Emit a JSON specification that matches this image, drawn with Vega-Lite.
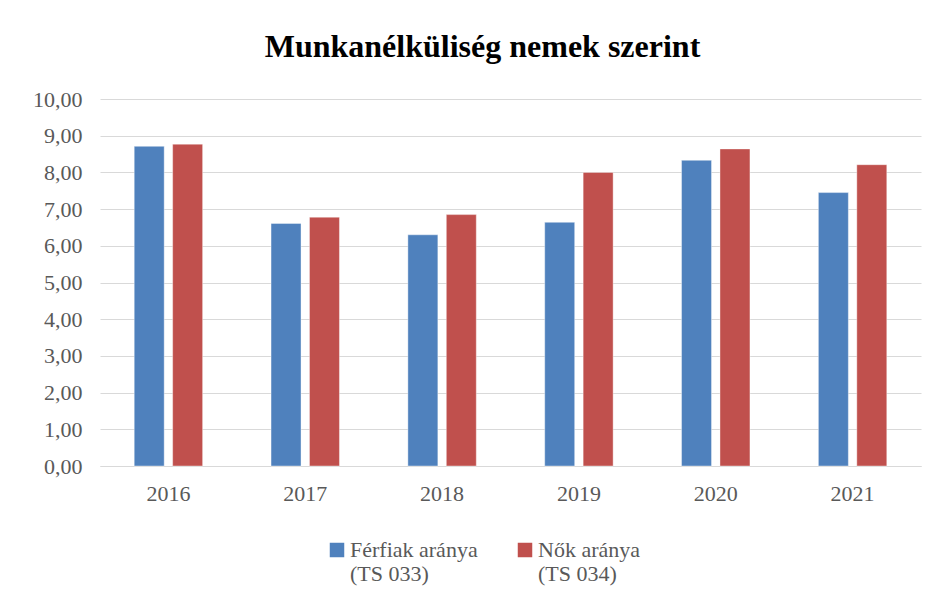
{
  "$schema": "https://vega.github.io/schema/vega-lite/v6.json",
  "width": 821,
  "height": 367,
  "autosize": {"type": "none"},
  "padding": {"left": 100, "top": 99, "right": 15, "bottom": 136},
  "background": "#ffffff",
  "title": {
    "text": "Munkanélküliség nemek szerint",
    "font": "Liberation Serif",
    "fontSize": 32,
    "fontWeight": "bold",
    "color": "#000000",
    "anchor": "middle",
    "dx": -28,
    "offset": 24
  },
  "data": {
    "values": [
      {"ev": "2016", "sorozat": "Férfiak aránya (TS 033)", "ertek": 8.71},
      {"ev": "2016", "sorozat": "Nők aránya (TS 034)", "ertek": 8.77},
      {"ev": "2017", "sorozat": "Férfiak aránya (TS 033)", "ertek": 6.61},
      {"ev": "2017", "sorozat": "Nők aránya (TS 034)", "ertek": 6.78},
      {"ev": "2018", "sorozat": "Férfiak aránya (TS 033)", "ertek": 6.30},
      {"ev": "2018", "sorozat": "Nők aránya (TS 034)", "ertek": 6.85},
      {"ev": "2019", "sorozat": "Férfiak aránya (TS 033)", "ertek": 6.64},
      {"ev": "2019", "sorozat": "Nők aránya (TS 034)", "ertek": 8.00},
      {"ev": "2020", "sorozat": "Férfiak aránya (TS 033)", "ertek": 8.33},
      {"ev": "2020", "sorozat": "Nők aránya (TS 034)", "ertek": 8.64},
      {"ev": "2021", "sorozat": "Férfiak aránya (TS 033)", "ertek": 7.45},
      {"ev": "2021", "sorozat": "Nők aránya (TS 034)", "ertek": 8.21}
    ]
  },
  "mark": {"type": "bar", "stroke": "#ffffff", "strokeWidth": 0.8, "strokeOpacity": 0.5},
  "encoding": {
    "x": {
      "field": "ev",
      "type": "nominal",
      "scale": {"paddingInner": 0.5, "paddingOuter": 0.25},
      "axis": {
        "title": null,
        "labelAngle": 0,
        "ticks": false,
        "domain": true,
        "domainColor": "#d9d9d9",
        "domainWidth": 1,
        "labelFont": "Liberation Serif",
        "labelFontSize": 22,
        "labelColor": "#595959",
        "labelPadding": 17,
        "grid": false
      }
    },
    "xOffset": {
      "field": "sorozat",
      "type": "nominal",
      "scale": {"paddingInner": 0.22, "paddingOuter": 0}
    },
    "y": {
      "field": "ertek",
      "type": "quantitative",
      "scale": {"domain": [0, 10], "nice": false},
      "axis": {
        "title": null,
        "values": [0, 1, 2, 3, 4, 5, 6, 7, 8, 9, 10],
        "format": ".2f",
        "labelExpr": "replace(datum.label, '.', ',')",
        "ticks": false,
        "domain": false,
        "grid": true,
        "gridColor": "#d9d9d9",
        "gridWidth": 1,
        "labelFont": "Liberation Serif",
        "labelFontSize": 22,
        "labelColor": "#595959",
        "labelPadding": 18
      }
    },
    "color": {
      "field": "sorozat",
      "type": "nominal",
      "scale": {"range": ["#4f81bd", "#c0504d"]},
      "legend": {
        "title": null,
        "orient": "none",
        "legendX": 226,
        "legendY": 440,
        "direction": "horizontal",
        "symbolType": "square",
        "symbolSize": 210,
        "symbolStrokeWidth": 0,
        "labelFont": "Liberation Serif",
        "labelFontSize": 22,
        "labelColor": "#595959",
        "labelOffset": 2,
        "labelLimit": 300,
        "columnPadding": 36,
        "labelExpr": "[slice(datum.label, 0, indexof(datum.label, ' (')), slice(datum.label, indexof(datum.label, ' (') + 1)]"
      }
    }
  },
  "config": {
    "view": {"stroke": null}
  }
}
